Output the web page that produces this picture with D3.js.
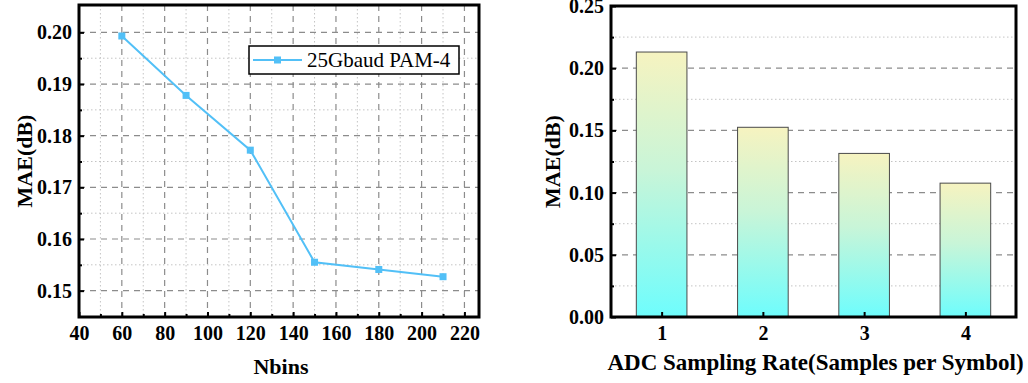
<!DOCTYPE html>
<html>
<head>
<meta charset="utf-8">
<title>MAE charts</title>
<style>
  body { margin: 0; background: #fff; }
  text { font-family: "Liberation Serif", "Times New Roman", serif; }
</style>
</head>
<body>
<script src="https://cdn.jsdelivr.net/npm/d3@7"></script>
<script>
// left chart: MAE vs Nbins
const nbins = [60, 90, 120, 150, 180, 210];
const maeNbins = [0.1993, 0.1878, 0.1772, 0.1555, 0.1541, 0.1527];
const seriesName = "25Gbaud PAM-4";
const xTicksLeft = [40, 60, 80, 100, 120, 140, 160, 180, 200, 220];
const yTicksLeft = [0.15, 0.16, 0.17, 0.18, 0.19, 0.20];

// right chart: MAE vs ADC sampling rate
const rates = [1, 2, 3, 4];
const maeRate = [0.213, 0.1525, 0.1315, 0.1076];
const yTicksRight = [0.00, 0.05, 0.10, 0.15, 0.20, 0.25];

const W = 1028, H = 383;
const svg = d3.select("body").append("svg").attr("width", W).attr("height", H);

const gridMajor = "#8c8c8c", gridMinor = "#c4c4c4";
const fs = 20;

let defs = svg.append("defs");
let grad = defs.append("linearGradient").attr("id", "barGrad")
    .attr("x1", 0).attr("y1", 0).attr("x2", 0).attr("y2", 1);
grad.append("stop").attr("offset", "0%").attr("stop-color", "#f6f3c0");
grad.append("stop").attr("offset", "45%").attr("stop-color", "#c8f5d8");
grad.append("stop").attr("offset", "100%").attr("stop-color", "#6efdfd");

// ---------- left panel ----------
let L = { x0: 79, x1: 479, y0: 5, y1: 317 };
let xl = d3.scaleLinear().domain([40, 226.8]).range([L.x0, L.x1]);
let yl = d3.scaleLinear().domain([0.1449, 0.2053]).range([L.y1, L.y0]);

let gl = svg.append("g");

// minor dotted grid
let xMinorL = d3.range(50, 226, 20);
let yMinorL = d3.range(0.155, 0.2, 0.01);
gl.selectAll(".vmin").data(xMinorL).enter().append("line")
    .attr("x1", d => xl(d)).attr("x2", d => xl(d)).attr("y1", L.y0).attr("y2", L.y1)
    .attr("stroke", gridMinor).attr("stroke-width", 1).attr("stroke-dasharray", "1.5,2.5");
gl.selectAll(".hmin").data(yMinorL).enter().append("line")
    .attr("x1", L.x0).attr("x2", L.x1).attr("y1", d => yl(d)).attr("y2", d => yl(d))
    .attr("stroke", gridMinor).attr("stroke-width", 1).attr("stroke-dasharray", "1.5,2.5");
// major dashed grid
gl.selectAll(".vmaj").data(xTicksLeft.slice(1)).enter().append("line")
    .attr("x1", d => xl(d)).attr("x2", d => xl(d)).attr("y1", L.y0).attr("y2", L.y1)
    .attr("stroke", gridMajor).attr("stroke-width", 1.2).attr("stroke-dasharray", "6,5");
gl.selectAll(".hmaj").data(yTicksLeft).enter().append("line")
    .attr("x1", L.x0).attr("x2", L.x1).attr("y1", d => yl(d)).attr("y2", d => yl(d))
    .attr("stroke", gridMajor).attr("stroke-width", 1.2).attr("stroke-dasharray", "6,5");

// axes (inward ticks)
let xAxisL = d3.axisBottom(xl).tickValues(xTicksLeft).tickSize(-5).tickPadding(9).tickFormat(d3.format("d"));
let yAxisL = d3.axisLeft(yl).tickValues(yTicksLeft).tickSize(-5).tickPadding(7).tickFormat(d3.format(".2f"));
gl.append("g").attr("transform", `translate(0,${L.y1})`).call(xAxisL);
gl.append("g").attr("transform", `translate(${L.x0},0)`).call(yAxisL);
gl.append("g").attr("transform", `translate(0,${L.y1})`)
    .call(d3.axisBottom(xl).tickValues(xMinorL).tickSize(-3).tickFormat(""));
gl.append("g").attr("transform", `translate(${L.x0},0)`)
    .call(d3.axisLeft(yl).tickValues(yMinorL).tickSize(-3).tickFormat(""));

// line + markers
let lineColor = "#52c0f7";
gl.append("path").datum(nbins.map((d, i) => [d, maeNbins[i]]))
    .attr("d", d3.line().x(d => xl(d[0])).y(d => yl(d[1])))
    .attr("fill", "none").attr("stroke", lineColor).attr("stroke-width", 2);
gl.selectAll(".pt").data(nbins).enter().append("rect")
    .attr("x", (d, i) => xl(d) - 3.5).attr("y", (d, i) => yl(maeNbins[i]) - 3.5)
    .attr("width", 7).attr("height", 7).attr("fill", lineColor);

// legend
let lg = gl.append("g");
lg.append("rect").attr("x", 249).attr("y", 46).attr("width", 210).attr("height", 28)
    .attr("fill", "#fff").attr("stroke", "#000").attr("stroke-width", 1.5);
lg.append("line").attr("x1", 253).attr("x2", 302).attr("y1", 60).attr("y2", 60)
    .attr("stroke", lineColor).attr("stroke-width", 2);
lg.append("rect").attr("x", 274).attr("y", 56.5).attr("width", 7).attr("height", 7).attr("fill", lineColor);
lg.append("text").attr("x", 307).attr("y", 67).style("font-size", "21px").text(seriesName);

// frame
gl.append("rect").attr("x", L.x0).attr("y", L.y0).attr("width", L.x1 - L.x0).attr("height", L.y1 - L.y0)
    .attr("fill", "none").attr("stroke", "#000").attr("stroke-width", 3);

// titles
gl.append("text").attr("x", (L.x0 + L.x1) / 2 + 2).attr("y", 374).attr("text-anchor", "middle")
    .style("font-size", "22px").style("font-weight", "bold").text("Nbins");
gl.append("text").attr("transform", `translate(32,${(L.y0 + L.y1) / 2}) rotate(-90)`)
    .attr("text-anchor", "middle").style("font-size", "22px").style("font-weight", "bold").text("MAE(dB)");

// ---------- right panel ----------
let R = { x0: 611, x1: 1016, y0: 6, y1: 317 };
let xr = d3.scaleLinear().domain([0.5, 4.5]).range([R.x0, R.x1]);
let yr = d3.scaleLinear().domain([0, 0.25]).range([R.y1, R.y0]);
let gr = svg.append("g");

let yMinorR = [0.025, 0.075, 0.125, 0.175, 0.225];
gr.selectAll(".hmin").data(yMinorR).enter().append("line")
    .attr("x1", R.x0).attr("x2", R.x1).attr("y1", d => yr(d)).attr("y2", d => yr(d))
    .attr("stroke", gridMinor).attr("stroke-width", 1).attr("stroke-dasharray", "1.5,2.5");
gr.selectAll(".hmaj").data(yTicksRight.slice(1, 5)).enter().append("line")
    .attr("x1", R.x0).attr("x2", R.x1).attr("y1", d => yr(d)).attr("y2", d => yr(d))
    .attr("stroke", gridMajor).attr("stroke-width", 1.2).attr("stroke-dasharray", "6,5");

let bw = xr(1.25) - xr(0.75);
gr.selectAll(".bar").data(rates).enter().append("rect")
    .attr("x", d => xr(d) - bw / 2).attr("width", bw)
    .attr("y", (d, i) => yr(maeRate[i])).attr("height", (d, i) => yr(0) - yr(maeRate[i]))
    .attr("fill", "url(#barGrad)").attr("stroke", "#4a4a4a").attr("stroke-width", 1);

let xAxisR = d3.axisBottom(xr).tickValues(rates).tickSize(-5).tickPadding(9).tickFormat(d3.format("d"));
let yAxisR = d3.axisLeft(yr).tickValues(yTicksRight).tickSize(-5).tickPadding(7).tickFormat(d3.format(".2f"));
gr.append("g").attr("transform", `translate(0,${R.y1})`).call(xAxisR);
gr.append("g").attr("transform", `translate(${R.x0},0)`).call(yAxisR);
gr.append("g").attr("transform", `translate(${R.x0},0)`)
    .call(d3.axisLeft(yr).tickValues(yMinorR).tickSize(-3).tickFormat(""));

gr.append("rect").attr("x", R.x0).attr("y", R.y0).attr("width", R.x1 - R.x0).attr("height", R.y1 - R.y0)
    .attr("fill", "none").attr("stroke", "#000").attr("stroke-width", 3);

gr.append("text").attr("x", (R.x0 + R.x1) / 2 + 2).attr("y", 370).attr("text-anchor", "middle")
    .style("font-size", "23px").style("font-weight", "bold").text("ADC Sampling Rate(Samples per Symbol)");
gr.append("text").attr("transform", `translate(560,${(R.y0 + R.y1) / 2}) rotate(-90)`)
    .attr("text-anchor", "middle").style("font-size", "22px").style("font-weight", "bold").text("MAE(dB)");

// axis styling
svg.selectAll(".domain").remove();
svg.selectAll(".tick line").attr("stroke", "#000").attr("stroke-width", 2);
svg.selectAll(".tick text")
    .style("font-family", "'Liberation Serif', 'Times New Roman', serif")
    .style("font-size", fs + "px").style("font-weight", "bold").attr("fill", "#000");
</script>
</body>
</html>
